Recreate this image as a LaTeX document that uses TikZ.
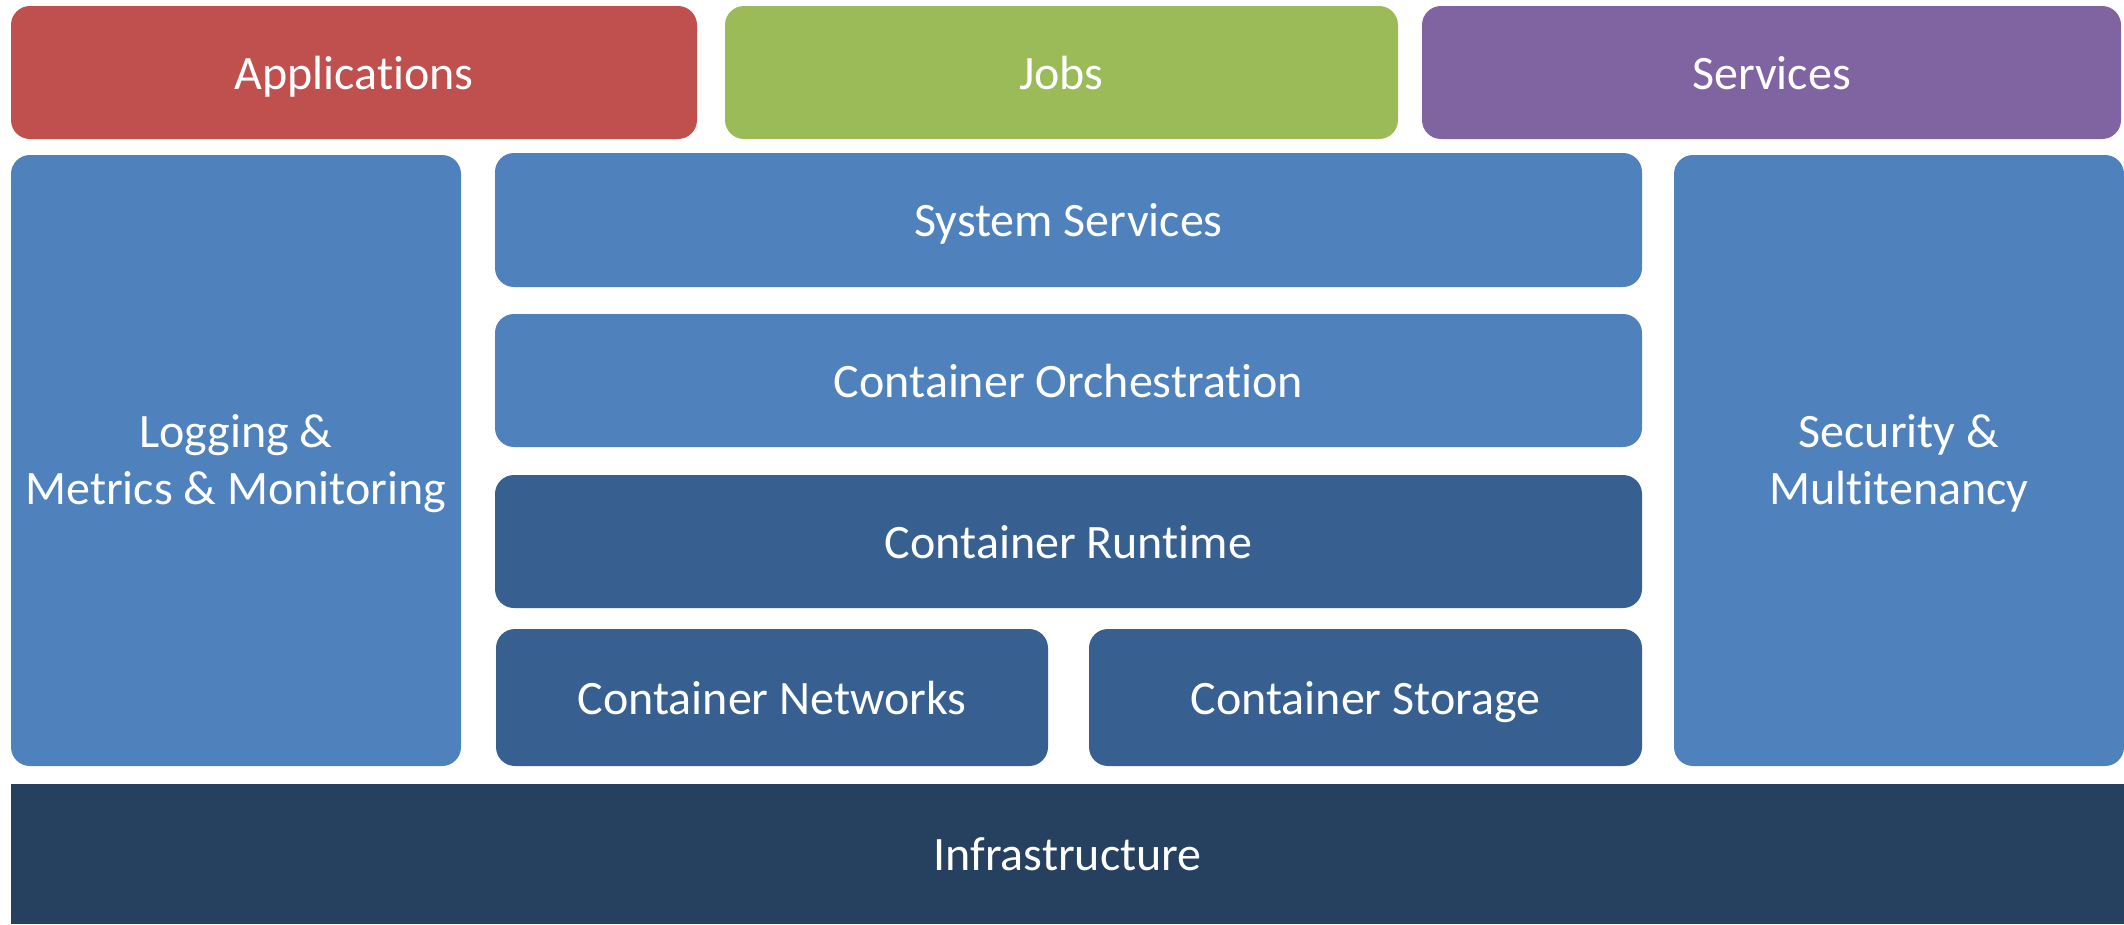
\documentclass[tikz,border=0pt]{standalone}
\usepackage{fontspec}
\setmainfont{Carlito}[Ligatures=NoCommon]
\definecolor{appred}{HTML}{C0504D}
\definecolor{jobgreen}{HTML}{9BBB59}
\definecolor{svcpurple}{HTML}{8064A2}
\definecolor{lightblue}{HTML}{4F81BD}
\definecolor{midblue}{HTML}{376090}
\definecolor{navy}{HTML}{264060}
\tikzset{
  box/.style={rounded corners=19pt, inner sep=0pt, draw=none, text=white,
    font=\fontsize{48}{57}\selectfont, text height=38pt, text depth=5pt},
  tallbox/.style={box, align=center, text height=92pt, text depth=5pt},
}
\begin{document}
\begin{tikzpicture}[x=1pt,y=-1pt]
\useasboundingbox (0,0) rectangle (2124,924);
\fill[white] (0,0) rectangle (2124,924);
\node[box, fill=appred, minimum width=686pt, minimum height=133pt] (apps) at (354,72.5) {Applications};
\node[box, fill=jobgreen, minimum width=673pt, minimum height=133pt] (jobs) at (1061.5,72.5) {Jobs};
\node[box, fill=svcpurple, minimum width=699pt, minimum height=133pt] (svcs) at (1771.5,72.5) {Services};
\node[tallbox, fill=lightblue, minimum width=450pt, minimum height=611pt] (log) at (236,460.5) {Logging \&\\Metrics \& Monitoring};
\node[box, fill=lightblue, minimum width=1147pt, minimum height=134pt] (sys) at (1068.5,220) {System Services};
\node[box, fill=lightblue, minimum width=1147pt, minimum height=133pt] (orch) at (1068.5,380.5) {Container Orchestration};
\node[box, fill=midblue, minimum width=1147pt, minimum height=133pt] (rt) at (1068.5,541.5) {Container Runtime};
\node[box, fill=midblue, minimum width=552pt, minimum height=137pt] (net) at (772,697.5) {Container Networks};
\node[box, fill=midblue, minimum width=553pt, minimum height=137pt] (sto) at (1365.5,697.5) {Container Storage};
\node[tallbox, fill=lightblue, minimum width=450pt, minimum height=611pt] (sec) at (1899,460.5) {Security \&\\Multitenancy};
\node[box, rounded corners=0pt, fill=navy, minimum width=2113pt, minimum height=140pt] (infra) at (1067.5,854) {Infrastructure};
\end{tikzpicture}
\end{document}
